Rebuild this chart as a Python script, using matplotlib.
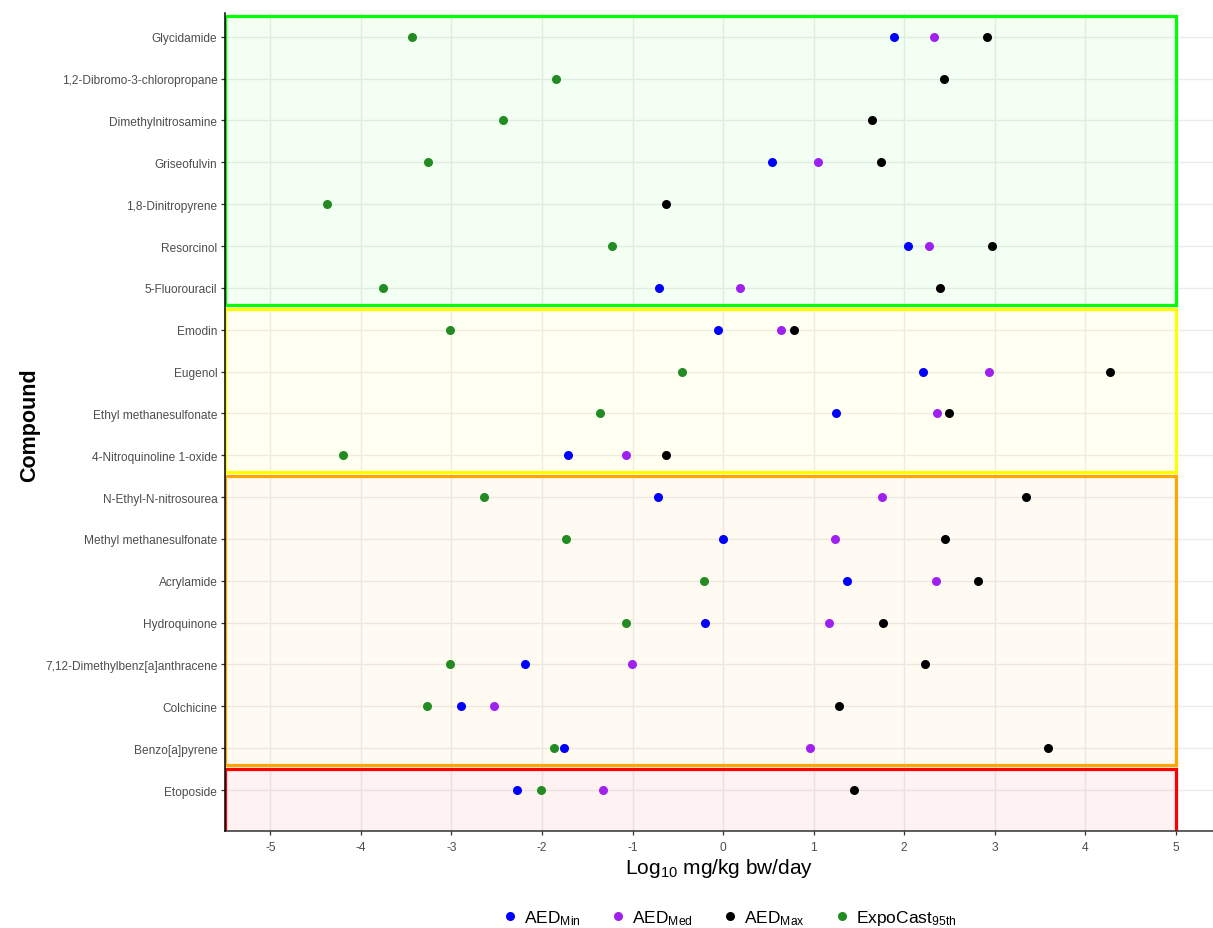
import numpy as np
import matplotlib
matplotlib.use("Agg")
import matplotlib.pyplot as plt
from matplotlib.patches import Rectangle
from matplotlib.lines import Line2D

plt.rcParams['font.family'] = ['Liberation Sans', 'DejaVu Sans']
plt.rcParams['mathtext.fontset'] = 'custom'
plt.rcParams['mathtext.rm'] = 'Liberation Sans'
plt.rcParams['mathtext.it'] = 'Liberation Sans'
plt.rcParams['axes.unicode_minus'] = False

# compounds, top to bottom
compounds = [
    "Glycidamide", "1,2-Dibromo-3-chloropropane", "Dimethylnitrosamine",
    "Griseofulvin", "1,8-Dinitropyrene", "Resorcinol", "5-Fluorouracil",
    "Emodin", "Eugenol", "Ethyl methanesulfonate", "4-Nitroquinoline 1-oxide",
    "N-Ethyl-N-nitrosourea", "Methyl methanesulfonate", "Acrylamide",
    "Hydroquinone", "7,12-Dimethylbenz[a]anthracene", "Colchicine",
    "Benzo[a]pyrene", "Etoposide",
]

# log10 mg/kg bw/day, NaN where no value
aed_min = [1.89, np.nan, np.nan, 0.54, np.nan, 2.04, -0.71,
           -0.06, 2.21, 1.25, -1.71,
           -0.72, 0.00, 1.37, -0.20, -2.19, -2.89, -1.76, -2.28]
aed_med = [2.33, np.nan, np.nan, 1.05, np.nan, 2.27, 0.19,
           0.64, 2.94, 2.36, -1.07,
           1.76, 1.24, 2.35, 1.17, -1.01, -2.53, 0.96, -1.33]
aed_max = [2.91, 2.44, 1.64, 1.74, -0.63, 2.97, 2.40,
           0.78, 4.27, 2.49, -0.63,
           3.35, 2.45, 2.82, 1.77, 2.23, 1.28, 3.59, 1.45]
expocast_95 = [-3.43, -1.84, -2.43, -3.26, -4.37, -1.23, -3.75,
               -3.02, -0.45, -1.36, -4.20,
               -2.64, -1.74, -0.21, -1.07, -3.02, -3.27, -1.87, -2.01]

# group boxes: (ymin, ymax, colour)
groups = [
    (12.6, 19.5, "#00FF00"),
    (8.6, 12.5, "#FFFF00"),
    (1.6, 8.5, "#FFA500"),
    (0.0, 1.5, "#FF0000"),
]

series = [
    (aed_min, "#0000FF", r"AED$_{\mathrm{Min}}$"),
    (aed_med, "#A020F0", r"AED$_{\mathrm{Med}}$"),
    (aed_max, "#000000", r"AED$_{\mathrm{Max}}$"),
    (expocast_95, "#228B22", r"ExpoCast$_{\mathrm{95th}}$"),
]

n = len(compounds)
ypos = np.arange(n, 0, -1)

fig = plt.figure(figsize=(12.13, 9.29), dpi=100)
ax = fig.add_axes([0.1855, 0.1044, 0.8145, 0.8806])

ax.set_xlim(-5.5, 5.41)
ax.set_ylim(0.02, 19.57)

ax.set_xticks(range(-5, 6))
ax.set_yticks(ypos)
ax.set_yticklabels(compounds)
ax.grid(True, color="#EBEBEB", linewidth=1.0)
ax.set_axisbelow(True)

for y0, y1, col in groups:
    ax.add_patch(Rectangle((-5.5, y0), 10.5, y1 - y0, facecolor=col,
                           alpha=0.05, edgecolor="none", zorder=1))
    ax.add_patch(Rectangle((-5.5, y0), 10.5, y1 - y0, facecolor="none",
                           edgecolor=col, linewidth=2.3, zorder=2))

for vals, col, lab in series:
    ax.plot(vals, ypos, linestyle="none", marker="o", markersize=6.5,
            color=col, markeredgewidth=0, zorder=3)

for side in ["top", "right"]:
    ax.spines[side].set_visible(False)
ax.spines["left"].set_color("black")
ax.spines["bottom"].set_color("#333333")
ax.spines["left"].set_linewidth(1.1)
ax.spines["bottom"].set_linewidth(1.1)
ax.spines["left"].set_zorder(4)

ax.tick_params(axis="both", colors="#333333", labelcolor="#4D4D4D",
               labelsize=8.6, length=3, width=0.9, pad=2.5)
ax.tick_params(axis="x", pad=4)

ax.set_xlabel(r"Log$_{10}$ mg/kg bw/day", fontsize=15, labelpad=2)
ax.set_ylabel("Compound", fontsize=15.5, fontweight="bold")
ax.yaxis.set_label_coords(-0.187, 0.4976)

handles = [Line2D([], [], linestyle="none", marker="o", markersize=6.5,
                  color=col, markeredgewidth=0, label=lab)
           for _, col, lab in series]
ax.legend(handles=handles, loc="center", bbox_to_anchor=(0.51, -0.106),
          ncol=4, frameon=False, fontsize=12.5, handletextpad=0.35,
          columnspacing=1.6, handlelength=1.0)

fig.savefig("out.png", dpi=100)
